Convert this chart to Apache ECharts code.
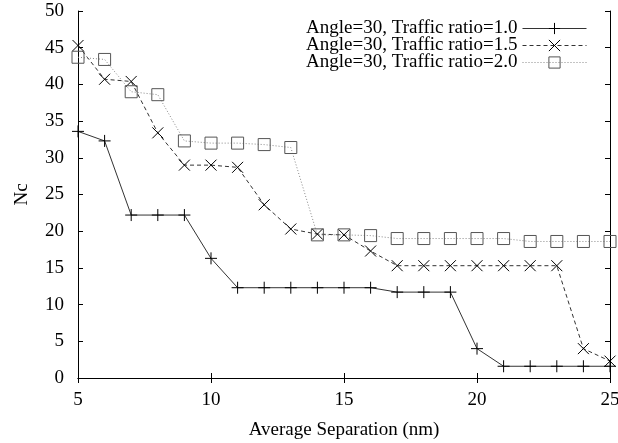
<!DOCTYPE html>
<html><head><meta charset="utf-8">
<script src="https://cdn.jsdelivr.net/npm/echarts@6/dist/echarts.min.js"></script>
<style>html,body{margin:0;padding:0;background:#fff}#c{width:618px;height:443px}</style>
</head><body><div id="c"></div>
<script>
const separation = [5,6,7,8,9,10,11,12,13,14,15,16,17,18,19,20,21,22,23,24,25];
const ratio10 = [33.6,32.3,22.2,22.2,22.2,16.3,12.3,12.3,12.3,12.3,12.3,12.3,11.7,11.7,11.7,4.0,1.6,1.6,1.6,1.6,1.6];
const ratio15 = [45.3,40.7,40.4,33.4,29.0,29.0,28.7,23.6,20.3,19.6,19.5,17.3,15.3,15.3,15.3,15.3,15.3,15.3,15.3,4.0,2.3];
const ratio20 = [43.7,43.4,39.0,38.6,32.3,32.0,32.0,31.8,31.4,19.5,19.5,19.4,19.0,19.0,19.0,19.0,19.0,18.6,18.6,18.6,18.6];
const seriesNames = ['Angle=30, Traffic ratio=1.0','Angle=30, Traffic ratio=1.5','Angle=30, Traffic ratio=2.0'];

const FONT = 'Liberation Serif';
const plusPath = 'path://M0,5L10,5M5,0L5,10';
const crossPath = 'path://M0,0L10,10M10,0L0,10';
const pairs = arr => separation.map((x,i)=>[x,arr[i]]);

const chart = echarts.init(document.getElementById('c'));
const axisLine = {show:true, lineStyle:{color:'#000', width:1}};
const tick = {show:true, inside:true, length:5, lineStyle:{color:'#000'}};
chart.setOption({
  animation:false,
  backgroundColor:'#fff',
  grid:{left:78, right:8, top:11, bottom:65, containLabel:false, outerBoundsMode:'none'},
  legend:{
    orient:'vertical', right:31, top:19, align:'right', itemGap:-2, padding:0,
    itemWidth:64, itemHeight:14,
    lineStyle:{width:1},
    itemStyle:{borderWidth:1},
    textStyle:{fontFamily:FONT, fontSize:19, lineHeight:16, color:'#000', padding:[0,0,0,0]},
    data:seriesNames
  },
  xAxis:[
    {type:'value', min:5, max:25, interval:5, position:'bottom',
     name:'Average Separation (nm)', nameLocation:'middle', nameGap:43,
     nameTextStyle:{fontFamily:FONT, fontSize:19, color:'#000'},
     axisLine:axisLine, axisTick:tick, splitLine:{show:false},
     axisLabel:{fontFamily:FONT, fontSize:19, color:'#000', margin:13}},
    {type:'value', min:5, max:25, interval:5, position:'top',
     axisLine:axisLine, axisTick:tick, splitLine:{show:false}, axisLabel:{show:false}}
  ],
  yAxis:[
    {type:'value', min:0, max:50, interval:5, position:'left',
     name:'Nc', nameLocation:'middle', nameGap:46,
     nameTextStyle:{fontFamily:FONT, fontSize:19, color:'#000'},
     axisLine:axisLine, axisTick:tick, splitLine:{show:false},
     axisLabel:{fontFamily:FONT, fontSize:19, color:'#000', margin:14}},
    {type:'value', min:0, max:50, interval:5, position:'right',
     axisLine:axisLine, axisTick:tick, splitLine:{show:false}, axisLabel:{show:false}}
  ],
  series:[
    {name:seriesNames[0], type:'line', data:pairs(ratio10),
     symbol:plusPath, symbolSize:12, showAllSymbol:true,
     lineStyle:{color:'#333', width:1, type:'solid'},
     itemStyle:{color:'#000', borderColor:'#000', borderWidth:1}},
    {name:seriesNames[1], type:'line', data:pairs(ratio15),
     symbol:crossPath, symbolSize:11, showAllSymbol:true,
     lineStyle:{color:'#333', width:1, type:[4,3]},
     itemStyle:{color:'#000', borderColor:'#000', borderWidth:1}},
    {name:seriesNames[2], type:'line', data:pairs(ratio20),
     symbol:'rect', symbolSize:12, showAllSymbol:true,
     lineStyle:{color:'#888', width:1, type:[1,2]},
     itemStyle:{color:'rgba(255,255,255,0)', borderColor:'#555', borderWidth:1}}
  ]
});
</script></body></html>
